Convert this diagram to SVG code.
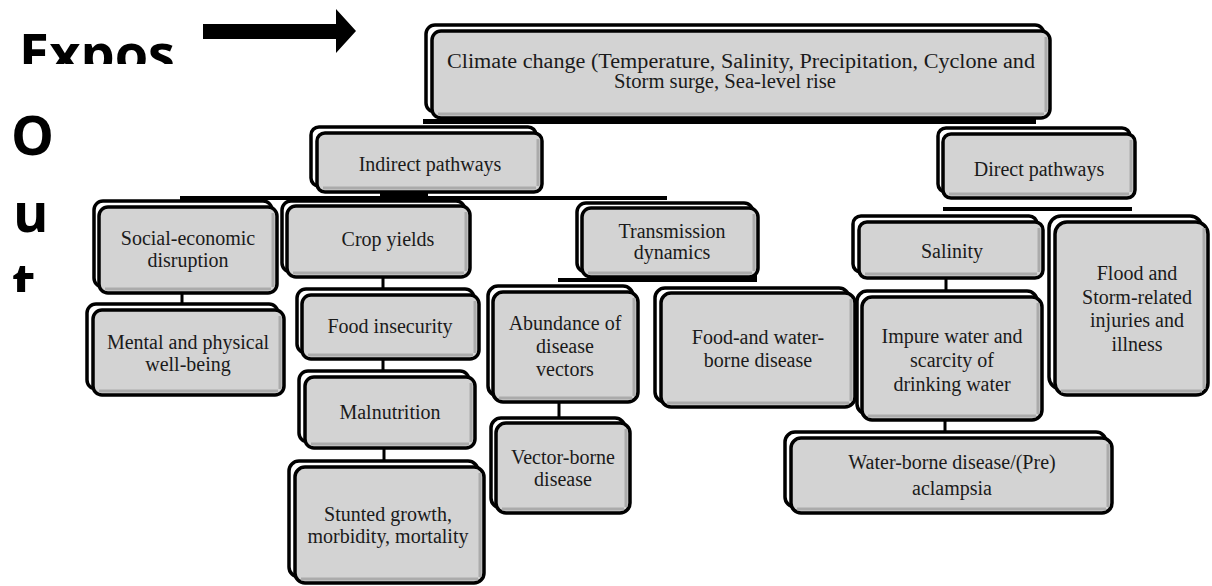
<svg xmlns="http://www.w3.org/2000/svg" width="1212" height="586" viewBox="0 0 1212 586">
<style>
.bk{fill:#fff;stroke:#000;stroke-width:3.5}
.fr{fill:#d3d3d3;stroke:#000;stroke-width:3.5}
.bd{fill:none;stroke:#ababab;stroke-width:3}
.t{font-family:"Liberation Serif","Times New Roman",serif;font-size:20px;fill:#1a1a1a;text-anchor:middle}
.big{font-family:"Open Sans","Liberation Sans",sans-serif;font-weight:bold;font-size:54px;fill:#000}
.bar{fill:#000}
</style>
<defs>
<clipPath id="c1"><rect x="0" y="0" width="200" height="64"/></clipPath>
<clipPath id="c2"><rect x="0" y="250" width="100" height="42"/></clipPath>
</defs>
<rect width="1212" height="586" fill="#fff"/>

<g id="side-labels">
<text class="big" x="19" y="73" clip-path="url(#c1)">Expos</text>
<text class="big" x="11" y="155">O</text>
<text class="big" x="13" y="232">u</text>
<text class="big" x="12" y="302" clip-path="url(#c2)">t</text>
<path d="M203 24 H336 V9 L356 31 L336 53 V39 H203 Z" fill="#000"/>
</g>

<g id="connectors">
<rect class="bar" x="423" y="119" width="613" height="5"/>
<rect class="bar" x="180" y="196" width="487" height="4"/>
<rect class="bar" x="380" y="191" width="48" height="8"/>
<rect class="bar" x="558" y="278" width="199" height="4"/>
<rect class="bar" x="662" y="275" width="95" height="7"/>
<rect class="bar" x="943" y="207" width="189" height="4"/>
<rect class="bar" x="180.5" y="292" width="3" height="18"/>
<rect class="bar" x="381.5" y="276" width="3" height="20"/>
<rect class="bar" x="381.5" y="358" width="3" height="20"/>
<rect class="bar" x="382.5" y="447" width="3" height="21"/>
<rect class="bar" x="557.5" y="401" width="3" height="23"/>
<rect class="bar" x="944.5" y="277" width="3" height="21"/>
<rect class="bar" x="943.5" y="419" width="3" height="20"/>
</g>

<g id="climate">
<rect class="bk" x="426" y="25" width="618" height="87" rx="9"/>
<rect class="fr" x="432" y="31" width="618" height="87" rx="9"/>
<path class="bd" d="M438 114 H1044 M1046 37 V112"/>
<text class="t" x="447" y="68" style="text-anchor:start" textLength="588" lengthAdjust="spacingAndGlyphs">Climate change (Temperature, Salinity, Precipitation, Cyclone and</text>
<text class="t" x="614" y="88" style="text-anchor:start" textLength="222" lengthAdjust="spacingAndGlyphs">Storm surge, Sea-level rise</text>
</g>

<g id="indirect">
<rect class="bk" x="311" y="127" width="225" height="59" rx="8"/>
<rect class="fr" x="317" y="133" width="225" height="59" rx="8"/>
<path class="bd" d="M323 188 H536 M538 139 V186"/>
<text class="t" x="430" y="171">Indirect pathways</text>
</g>

<g id="direct">
<rect class="bk" x="938" y="128" width="192" height="64" rx="8"/>
<rect class="fr" x="943" y="134" width="192" height="64" rx="8"/>
<path class="bd" d="M949 194 H1129 M1131 140 V192"/>
<text class="t" x="1039" y="176">Direct pathways</text>
</g>

<g id="social">
<rect class="bk" x="94" y="201" width="178" height="86" rx="9"/>
<rect class="fr" x="99" y="207" width="178" height="86" rx="9"/>
<path class="bd" d="M105 289 H271 M273 213 V287"/>
<text class="t" x="188" y="245">Social-economic</text>
<text class="t" x="188" y="267">disruption</text>
</g>

<g id="crop">
<rect class="bk" x="282" y="201" width="183" height="71" rx="9"/>
<rect class="fr" x="287" y="206" width="183" height="71" rx="9"/>
<path class="bd" d="M293 273 H464 M466 212 V271"/>
<text class="t" x="388" y="246">Crop yields</text>
</g>

<g id="transmission">
<rect class="bk" x="577" y="203" width="176" height="69" rx="9"/>
<rect class="fr" x="582" y="208" width="176" height="69" rx="9"/>
<path class="bd" d="M588 273 H752 M754 214 V271"/>
<text class="t" x="672" y="238">Transmission</text>
<text class="t" x="672" y="259">dynamics</text>
</g>

<g id="mental">
<rect class="bk" x="87" y="304" width="191" height="85" rx="9"/>
<rect class="fr" x="93" y="310" width="191" height="85" rx="9"/>
<path class="bd" d="M99 391 H278 M280 316 V389"/>
<text class="t" x="188" y="349">Mental  and physical</text>
<text class="t" x="188" y="371">well-being</text>
</g>

<g id="food-insecurity">
<rect class="bk" x="297" y="289" width="177" height="64" rx="9"/>
<rect class="fr" x="302" y="295" width="177" height="64" rx="9"/>
<path class="bd" d="M308 355 H473 M475 301 V353"/>
<text class="t" x="390" y="333">Food insecurity</text>
</g>

<g id="malnutrition">
<rect class="bk" x="299" y="371" width="170" height="71" rx="9"/>
<rect class="fr" x="305" y="377" width="170" height="71" rx="9"/>
<path class="bd" d="M311 444 H469 M471 383 V442"/>
<text class="t" x="390" y="419">Malnutrition</text>
</g>

<g id="stunted">
<rect class="bk" x="289" y="461" width="189" height="116" rx="10"/>
<rect class="fr" x="295" y="467" width="189" height="116" rx="10"/>
<path class="bd" d="M301 579 H478 M480 473 V577"/>
<text class="t" x="388" y="521">Stunted growth,</text>
<text class="t" x="388" y="543">morbidity, mortality</text>
</g>

<g id="abundance">
<rect class="bk" x="488" y="286" width="145" height="110" rx="10"/>
<rect class="fr" x="493" y="292" width="145" height="110" rx="10"/>
<path class="bd" d="M499 398 H632 M634 298 V396"/>
<text class="t" x="565" y="330">Abundance of</text>
<text class="t" x="565" y="353">disease</text>
<text class="t" x="565" y="376">vectors</text>
</g>

<g id="vector-borne">
<rect class="bk" x="491" y="418" width="134" height="90" rx="10"/>
<rect class="fr" x="496" y="423" width="134" height="90" rx="10"/>
<path class="bd" d="M502 509 H624 M626 429 V507"/>
<text class="t" x="563" y="464">Vector-borne</text>
<text class="t" x="563" y="486">disease</text>
</g>

<g id="food-water">
<rect class="bk" x="655" y="288" width="194" height="114" rx="10"/>
<rect class="fr" x="661" y="293" width="194" height="114" rx="10"/>
<path class="bd" d="M667 403 H849 M851 299 V401"/>
<text class="t" x="758" y="344">Food-and water-</text>
<text class="t" x="758" y="367">borne disease</text>
</g>

<g id="salinity">
<rect class="bk" x="853" y="216" width="184" height="56" rx="8"/>
<rect class="fr" x="859" y="222" width="184" height="56" rx="8"/>
<path class="bd" d="M865 274 H1037 M1039 228 V272"/>
<text class="t" x="952" y="258">Salinity</text>
</g>

<g id="flood">
<rect class="bk" x="1049" y="216" width="153" height="173" rx="12"/>
<rect class="fr" x="1055" y="222" width="153" height="173" rx="12"/>
<path class="bd" d="M1061 391 H1202 M1204 228 V389"/>
<text class="t" x="1137" y="280">Flood and</text>
<text class="t" x="1137" y="304">Storm-related</text>
<text class="t" x="1137" y="327">injuries and</text>
<text class="t" x="1137" y="351">illness</text>
</g>

<g id="impure">
<rect class="bk" x="857" y="291" width="180" height="123" rx="10"/>
<rect class="fr" x="862" y="297" width="180" height="123" rx="10"/>
<path class="bd" d="M868 416 H1036 M1038 303 V414"/>
<text class="t" x="952" y="343">Impure water and</text>
<text class="t" x="952" y="367">scarcity of</text>
<text class="t" x="952" y="391">drinking water</text>
</g>

<g id="water-borne">
<rect class="bk" x="785" y="432" width="321" height="75" rx="10"/>
<rect class="fr" x="791" y="438" width="321" height="75" rx="10"/>
<path class="bd" d="M797 509 H1106 M1108 444 V507"/>
<text class="t" x="952" y="469">Water-borne disease/(Pre)</text>
<text class="t" x="952" y="495">aclampsia</text>
</g>
</svg>
